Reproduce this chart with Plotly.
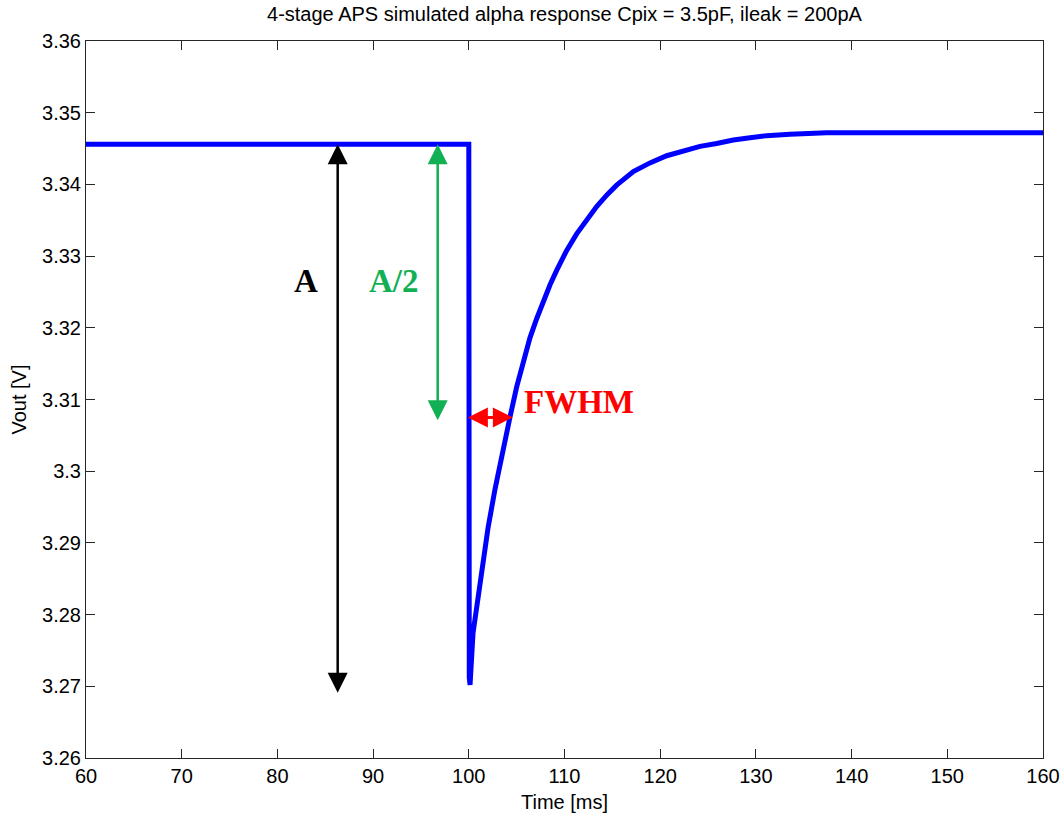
import plotly.graph_objects as go

# ---- data ----
time_ms = [60, 100.0, 100.05, 100.13, 100.44, 100.86, 101.38, 102.01, 102.74, 103.47,
           104.31, 105.01, 105.70, 106.39, 107.10, 107.79, 108.49, 109.18, 110.23,
           111.27, 112.32, 113.36, 114.41, 115.45, 117.19, 118.93, 120.68, 122.41,
           124.16, 125.90, 127.64, 129.38, 131.13, 133.56, 137.39, 160.0]
vout_v = [3.3456, 3.3456, 3.2712, 3.2702, 3.2774, 3.2815, 3.2864, 3.2921, 3.2975, 3.3025,
          3.3076, 3.3118, 3.3155, 3.3186, 3.3213, 3.3238, 3.3260, 3.3280, 3.3308,
          3.3331, 3.3351, 3.3369, 3.3385, 3.3399, 3.3418, 3.3430, 3.3440, 3.3447,
          3.3453, 3.3457, 3.3462, 3.3465, 3.3468, 3.3470, 3.3472, 3.3472]

x_ticks = [60, 70, 80, 90, 100, 110, 120, 130, 140, 150, 160]
y_ticks = [3.26, 3.27, 3.28, 3.29, 3.30, 3.31, 3.32, 3.33, 3.34, 3.35, 3.36]
y_tick_text = ["3.26", "3.27", "3.28", "3.29", "3.3", "3.31", "3.32", "3.33", "3.34", "3.35", "3.36"]

baseline = 3.3456
v_min = 3.2702
half_level = 3.3075
a_arrow_x = 86.3
half_arrow_x = 96.75
fwhm_left = 99.75
fwhm_right = 104.6

title_text = "4-stage APS simulated alpha response Cpix = 3.5pF, ileak = 200pA"

AX_FONT = "Liberation Sans Narrow, Arial Narrow, Liberation Sans, Arial, sans-serif"
SERIF = "Liberation Serif, Times New Roman, serif"

fig = go.Figure()
fig.add_trace(go.Scatter(x=time_ms, y=vout_v, mode="lines",
                         line=dict(color="#0000FF", width=5), hoverinfo="skip",
                         showlegend=False))

annotations = [
    # A arrow (double-headed, black)
    dict(x=a_arrow_x, y=baseline, ax=a_arrow_x, ay=v_min - 0.0013, xref="x", yref="y",
         axref="x", ayref="y", text="", showarrow=True, arrowhead=2, arrowside="end+start",
         arrowwidth=2.5, arrowsize=1.6, arrowcolor="#000000"),
    # A/2 arrow (double-headed, green)
    dict(x=half_arrow_x, y=baseline, ax=half_arrow_x, ay=half_level - 0.0006, xref="x", yref="y",
         axref="x", ayref="y", text="", showarrow=True, arrowhead=2, arrowside="end+start",
         arrowwidth=2.5, arrowsize=1.6, arrowcolor="#12B055"),
    # FWHM arrow (double-headed, red)
    dict(x=fwhm_right, y=half_level, ax=fwhm_left, ay=half_level, xref="x", yref="y",
         axref="x", ayref="y", text="", showarrow=True, arrowhead=2, arrowside="end+start",
         arrowwidth=3, arrowsize=1.33, arrowcolor="#FF0000"),
    dict(x=83.04, y=3.3265, xref="x", yref="y", text="<b>A</b>", showarrow=False,
         font=dict(family=SERIF, size=33, color="#000000")),
    dict(x=92.18, y=3.3265, xref="x", yref="y", text="<b>A/2</b>", showarrow=False,
         font=dict(family=SERIF, size=33, color="#12B055")),
    dict(x=111.52, y=3.3096, xref="x", yref="y", text="<b>FWHM</b>", showarrow=False,
         font=dict(family=SERIF, size=33, color="#FF0000")),
]

axis_common = dict(showgrid=False, zeroline=False, showline=True, linecolor="#262626",
                   linewidth=1, mirror="allticks", ticks="inside", ticklen=9,
                   tickcolor="#262626", tickwidth=1,
                   tickfont=dict(family=AX_FONT, size=20, color="#000000"))

fig.update_layout(
    width=1062, height=818,
    margin=dict(l=86, r=19, t=41, b=60),
    paper_bgcolor="white", plot_bgcolor="white",
    title=dict(text=title_text, x=0.5315, xanchor="center", y=1 - 14 / 818, yanchor="middle",
               yref="container", font=dict(family=AX_FONT, size=20, color="#000000")),
    xaxis=dict(range=[60, 160], tickvals=x_ticks, ticktext=[str(v) for v in x_ticks],
               title=dict(text="Time [ms]", standoff=8,
                          font=dict(family=AX_FONT, size=20, color="#000000")),
               automargin=False, **axis_common),
    yaxis=dict(range=[3.26, 3.36], tickvals=y_ticks, ticktext=y_tick_text,
               title=dict(text="Vout [V]", standoff=10,
                          font=dict(family=AX_FONT, size=20, color="#000000")),
               automargin=False, **axis_common),
    annotations=annotations,
)

fig.write_html("out.html")
